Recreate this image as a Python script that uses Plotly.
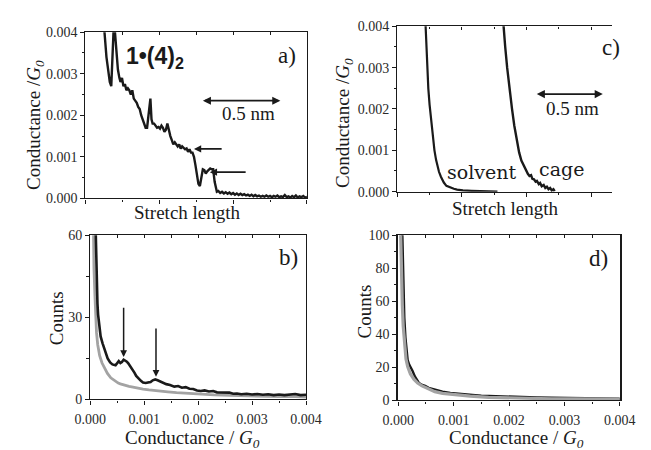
import plotly.graph_objects as go

# ---------------- data ----------------
# (a) single stretching trace of 1·(4)2, stretch length in arbitrary units
trace_a_x = [0.49, 0.53, 0.57, 0.60, 0.63, 0.66, 0.70, 0.72, 0.74, 0.77, 0.80, 0.83, 0.86, 0.88,
             0.92, 0.95, 0.99, 1.03, 1.07, 1.11, 1.15, 1.19, 1.23, 1.27, 1.31, 1.35, 1.39, 1.43,
             1.47, 1.51, 1.55, 1.59, 1.63, 1.67, 1.70, 1.73, 1.76, 1.79, 1.82, 1.86, 1.90, 1.94,
             1.98, 2.02, 2.06, 2.10, 2.14, 2.18, 2.22, 2.26, 2.30, 2.34, 2.38, 2.42, 2.46, 2.50,
             2.54, 2.58, 2.62, 2.66, 2.70, 2.74, 2.78, 2.82, 2.86, 2.90, 2.94, 2.98, 3.02, 3.06,
             3.10, 3.14, 3.18, 3.22, 3.26, 3.30, 3.34, 3.38, 3.42, 3.46, 3.50, 3.53, 3.56, 3.60,
             3.65, 3.70, 3.75, 3.80, 3.85, 3.90, 3.95, 4.00, 4.05, 4.10, 4.15, 4.20, 4.25, 4.30,
             4.35, 4.40, 4.45, 4.50, 4.55, 4.60, 4.65, 4.70, 4.75, 4.80, 4.85, 4.90, 4.95, 5.00,
             5.05, 5.10, 5.15, 5.20, 5.25, 5.30, 5.35, 5.40, 5.45, 5.50, 5.55, 5.60, 5.65, 5.70,
             5.75, 5.80, 5.85, 5.90, 5.95, 6.00]
trace_a_g = [0.0043, 0.0038, 0.0034, 0.0032, 0.0030, 0.0028, 0.0027, 0.0031, 0.0037, 0.0042,
             0.0040, 0.0036, 0.0034, 0.0031, 0.0029, 0.0028, 0.0029, 0.0027, 0.00275, 0.0026,
             0.00265, 0.0026, 0.0025, 0.0026, 0.0024, 0.00235, 0.0023, 0.0022, 0.00215, 0.0020,
             0.0019, 0.0018, 0.0017, 0.0017, 0.0019, 0.0022, 0.0024, 0.0019, 0.0018, 0.0018,
             0.00175, 0.0017, 0.00172, 0.00168, 0.00175, 0.0017, 0.0016, 0.00165, 0.0018, 0.0016,
             0.0015, 0.0014, 0.0013, 0.00135, 0.0013, 0.00125, 0.0013, 0.0012, 0.00125, 0.0012,
             0.00118, 0.0012, 0.00112, 0.00118, 0.0011, 0.0011, 0.0010, 0.0008, 0.0005, 0.00035,
             0.0003, 0.0005, 0.0007, 0.00068, 0.0006, 0.00065, 0.0007, 0.00072, 0.0007, 0.0007,
             0.0004, 0.00022, 0.00016, 0.00018, 0.00013, 0.00016, 0.00012, 0.00015, 0.00011,
             0.00014, 0.00010, 0.00013, 0.00009, 0.00012, 0.00008, 0.00011, 0.00008, 0.00010,
             0.00007, 0.00009, 0.00006, 0.00009, 0.00005, 0.00008, 0.00005, 0.00007, 0.00004,
             0.00006, 0.00004, 0.00007, 0.00004, 0.00006, 0.00003, 0.00006, 0.00004, 0.00007,
             0.00003, 0.00005, 0.00003, 0.00008, 0.00003, 0.00005, 0.00002, 0.00006, 0.00003,
             0.00007, 0.00002, 0.00005, 0.00003, 0.00006, 0.00002, 0.00004]

# (c) solvent and cage traces
solvent_x = [0.86, 0.873, 0.90, 0.93, 0.96, 1.00, 1.05, 1.10, 1.15, 1.20, 1.25, 1.29, 1.35,
             1.44, 1.52, 1.64, 1.75, 1.85, 2.03, 2.30, 2.60, 3.10]
solvent_g = [0.0043, 0.0040, 0.0035, 0.0029, 0.0025, 0.0021, 0.0017, 0.0013, 0.0010, 0.00077,
             0.0006, 0.00048, 0.00036, 0.00022, 0.00014, 0.00010, 0.00007, 0.00005, 0.00003,
             0.00002, 0.00001, 0.0]
cage_x = [3.26, 3.285, 3.34, 3.40, 3.47, 3.55, 3.62, 3.70, 3.77, 3.84, 3.90, 3.95, 4.00, 4.04,
          4.09, 4.14, 4.18, 4.23, 4.28, 4.32, 4.38, 4.42, 4.47, 4.53, 4.58, 4.63, 4.68, 4.73,
          4.78, 4.83, 4.87]
cage_g = [0.0043, 0.0040, 0.0035, 0.0030, 0.0025, 0.0020, 0.0016, 0.0012, 0.00095, 0.00075,
          0.00065, 0.00055, 0.0005, 0.00043, 0.00038, 0.00040, 0.00031, 0.00030, 0.00024,
          0.00026, 0.00018, 0.00021, 0.00013, 0.00016, 0.00009, 0.00012, 0.00006, 0.00009,
          0.00003, 0.00006, 0.00001]

# (b) conductance histograms: with molecule (black) and reference (grey)
hist_b_black_g = [0.00008, 0.0001, 0.000118, 0.000135, 0.000147, 0.00017, 0.000194, 0.00023,
                  0.000265, 0.0003, 0.000324, 0.00037, 0.000412, 0.00047, 0.0005, 0.00053,
                  0.00056, 0.000588, 0.00062, 0.000647, 0.00068, 0.000706, 0.00074, 0.000782,
                  0.00082, 0.000853, 0.0009, 0.00094, 0.00098, 0.00103, 0.00107, 0.00112,
                  0.00116, 0.001206, 0.00125, 0.00129, 0.00134, 0.00141, 0.00148, 0.00156,
                  0.00163, 0.0017, 0.00177, 0.00184, 0.00191, 0.00198, 0.00205, 0.00212,
                  0.0022, 0.00228, 0.00235, 0.00242, 0.0025, 0.00258, 0.00265, 0.00272,
                  0.0028, 0.0029, 0.0030, 0.0031, 0.0032, 0.0033, 0.0034, 0.0035, 0.0036,
                  0.0037, 0.0038, 0.0039, 0.0040]
hist_b_black_n = [80, 60, 44, 35, 31, 26, 23, 20.5, 18.4, 16, 15, 13.5, 12.8, 12.5, 13.2, 14,
                  13.3, 13.7, 14.5, 14.2, 13.8, 13.2, 12.3, 11.2, 9.8, 8.6, 7.5, 6.8, 6.2, 6.0,
                  6.2, 6.4, 7.0, 7.3, 7.0, 6.6, 6.0, 5.6, 5.3, 4.7, 4.9, 4.3, 4.5, 3.9, 3.8, 3.3,
                  3.1, 3.3, 2.9, 3.1, 2.6, 2.6, 2.4, 2.5, 2.1, 2.2, 1.9, 2.1, 1.8, 2.0, 1.7, 1.9,
                  1.6, 1.8, 1.6, 1.7, 2.0, 1.6, 1.7]
hist_b_grey_g = [0.00005, 0.000059, 0.00007, 0.000088, 0.0001, 0.000118, 0.00014, 0.000176,
                 0.00022, 0.000265, 0.00032, 0.000382, 0.00045, 0.00052, 0.000559, 0.00065,
                 0.00072, 0.000794, 0.00088, 0.00098, 0.00109, 0.0012, 0.00132, 0.00144,
                 0.0016, 0.0018, 0.00203, 0.0023, 0.0026, 0.0029, 0.0032, 0.0035, 0.0038, 0.0040]
hist_b_grey_n = [80, 60, 48, 38, 31, 24.3, 20, 16, 13.3, 11.4, 9.5, 7.9, 6.8, 6.0, 5.7, 5.1,
                 4.8, 4.5, 4.1, 3.8, 3.5, 3.2, 3.0, 2.8, 2.5, 2.2, 2.0, 1.7, 1.5, 1.3, 1.2, 1.0,
                 1.0, 0.9]

# (d) conductance histograms for the cage
hist_d_black_g = [0.00006, 0.000074, 0.000085, 0.000097, 0.00011, 0.00013, 0.00015, 0.00017,
                  0.0002, 0.00023, 0.000257, 0.0003, 0.00034, 0.00037, 0.00042, 0.000486,
                  0.00055, 0.00066, 0.0008, 0.00094, 0.0011, 0.00125, 0.00134, 0.0015, 0.0017,
                  0.0019, 0.0022, 0.0025, 0.00277, 0.0031, 0.0034, 0.0037, 0.0040]
hist_d_black_n = [120, 100, 80, 67, 50, 38, 29, 24.4, 21.5, 20, 18, 14.5, 12, 10.7, 9.5, 8.8,
                  7.6, 6.4, 5.3, 4.5, 3.9, 3.6, 3.3, 2.9, 2.6, 2.3, 2.0, 1.8, 1.6, 1.4, 1.2, 1.1,
                  1.0]
hist_d_grey_g = [0.00003, 0.00004, 0.00006, 0.000074, 0.00009, 0.000114, 0.00014, 0.00017,
                 0.00022, 0.000286, 0.00035, 0.00043, 0.00055, 0.00066, 0.0008, 0.00106,
                 0.0013, 0.00163, 0.002, 0.0024, 0.00277, 0.0032, 0.0036, 0.004]
hist_d_grey_n = [120, 100, 70, 57.5, 45, 32, 25, 20.5, 16, 12.7, 10.5, 8.8, 6.8, 5.3, 4.3, 3.3,
                 2.6, 1.9, 1.5, 1.2, 1.0, 0.9, 0.8, 0.8]

# arrows marking the steps / peaks
step_arrows_a = [(2.94, 0.00119, 3.73), (3.37, 0.00063, 4.38)]   # (head x, y, tail x)
peak_arrows_b = [(0.00062, 15.5, 34.0), (0.00122, 8.3, 26.5)]    # (x, head y, tail y)

# ---------------- layout helpers ----------------
W, H = 651, 450
SERIF = "Liberation Serif"
INK = "#1a1a1a"
GREY = "#a3a3a3"


def xdom(left, right):
    return [left / W, right / W]


def ydom(top, bottom):
    return [1 - bottom / H, 1 - top / H]


def px_x(p):
    return p / W


def px_y(p):
    return 1 - p / H


fig = go.Figure()

# panel (a)
fig.add_trace(go.Scatter(x=trace_a_x, y=trace_a_g, mode="lines",
                         line=dict(color=INK, width=2.4), xaxis="x", yaxis="y"))
# panel (c)
fig.add_trace(go.Scatter(x=solvent_x, y=solvent_g, mode="lines",
                         line=dict(color=INK, width=2.2), xaxis="x3", yaxis="y3"))
fig.add_trace(go.Scatter(x=cage_x, y=cage_g, mode="lines",
                         line=dict(color=INK, width=2.4), xaxis="x3", yaxis="y3"))
# panel (b)
fig.add_trace(go.Scatter(x=hist_b_grey_g, y=hist_b_grey_n, mode="lines",
                         line=dict(color=GREY, width=2.8), xaxis="x2", yaxis="y2"))
fig.add_trace(go.Scatter(x=hist_b_black_g, y=hist_b_black_n, mode="lines",
                         line=dict(color=INK, width=2.6), xaxis="x2", yaxis="y2"))
# panel (d)
fig.add_trace(go.Scatter(x=hist_d_black_g, y=hist_d_black_n, mode="lines",
                         line=dict(color=INK, width=2.4), xaxis="x4", yaxis="y4"))
fig.add_trace(go.Scatter(x=hist_d_grey_g, y=hist_d_grey_n, mode="lines",
                         line=dict(color=GREY, width=3.2), xaxis="x4", yaxis="y4"))

# empty traces so that the top tick axes get drawn
for xa, ya in [("x5", "y"), ("x6", "y2"), ("x7", "y3"), ("x8", "y4")]:
    fig.add_trace(go.Scatter(x=[], y=[], xaxis=xa, yaxis=ya, hoverinfo="skip"))

tickfont = dict(family=SERIF, size=14, color="#2a2a2a")


def y_axis(dom, rng, dtick, minor_dtick, fmt, anchor, mirror=True, lw=1.4):
    return dict(domain=dom, range=rng, anchor=anchor, showline=True, linecolor=INK,
                linewidth=lw, mirror=mirror, ticks="outside", ticklen=4, tickwidth=1.2,
                tickcolor=INK, dtick=dtick, tick0=0, tickformat=fmt, tickfont=tickfont,
                showgrid=False, zeroline=False,
                minor=dict(ticks="outside", ticklen=2.5, dtick=minor_dtick, tick0=0,
                           tickcolor=INK, tickwidth=1, showgrid=False))


def x_axis(dom, rng, dtick, minor_dtick, fmt, anchor, labels):
    return dict(domain=dom, range=rng, anchor=anchor, showline=True, linecolor=INK,
                linewidth=1.4, mirror=False, ticks="outside", ticklen=4, tickwidth=1.2,
                tickcolor=INK, dtick=dtick, tick0=0, tickformat=fmt, tickfont=tickfont,
                showticklabels=labels, ticklabelstandoff=3, showgrid=False, zeroline=False,
                minor=dict(ticks="outside", ticklen=2.5, dtick=minor_dtick, tick0=0,
                           tickcolor=INK, tickwidth=1, showgrid=False))


def top_axis(over, anchor, rng, dtick, minor_dtick):
    return dict(overlaying=over, anchor=anchor, side="top", range=rng, showline=True,
                linecolor=INK, linewidth=1.4, ticks="inside", ticklen=3, tickwidth=1,
                tickcolor=INK, dtick=dtick, tick0=0, showticklabels=False,
                showgrid=False, zeroline=False,
                minor=dict(ticks="inside", ticklen=2.5, dtick=minor_dtick, tick0=0,
                           tickcolor=INK, tickwidth=1, showgrid=False))


rng_a = [0, 6]
rng_c = [0, 6.65]
rng_h = [0, 0.004]

fig.update_layout(
    width=W, height=H, margin=dict(l=0, r=0, t=0, b=0),
    paper_bgcolor="white", plot_bgcolor="white", showlegend=False,
    xaxis=x_axis(xdom(73, 306), rng_a, 2, 1, None, "y", False),
    yaxis=y_axis(ydom(26, 198), [0, 0.004], 0.001, 0.0005, ".3f", "x"),
    xaxis2=x_axis(xdom(78, 305), rng_h, 0.001, 0.0005, ".3f", "y2", True),
    yaxis2=y_axis(ydom(236, 406), [0, 60], 30, 15, "d", "x2"),
    xaxis3=x_axis(xdom(401, 627), rng_c, 2, 1, None, "y3", False),
    yaxis3=y_axis(ydom(20, 191), [0, 0.004], 0.001, 0.0005, ".3f", "x3", mirror=False),
    xaxis4=x_axis(xdom(402, 635), rng_h, 0.001, 0.0005, ".3f", "y4", True),
    yaxis4=y_axis(ydom(236, 407), [0, 100], 20, 10, "d", "x4", lw=1.8),
    xaxis5=top_axis("x", "y", rng_a, 2, 1),
    xaxis6=top_axis("x2", "y2", rng_h, 0.001, 0.0005),
    xaxis7=top_axis("x3", "y3", rng_c, 2, 1),
    xaxis8=top_axis("x4", "y4", rng_h, 0.001, 0.0005),
)

ann = []
title_font = dict(family=SERIF, size=19, color=INK)
G0 = "<i>G</i><sub><i>0</i></sub>"

# axis titles
ann += [
    dict(text="Conductance /" + G0, x=px_x(20), y=px_y(122), textangle=-90),
    dict(text="Conductance /" + G0, x=px_x(345), y=px_y(120), textangle=-90),
    dict(text="Counts", x=px_x(42), y=px_y(322), textangle=-90),
    dict(text="Counts", x=px_x(367), y=px_y(315), textangle=-90),
    dict(text="Stretch length", x=px_x(180), y=px_y(213)),
    dict(text="Stretch length", x=px_x(515), y=px_y(208)),
    dict(text="Conductance / " + G0, x=px_x(186), y=px_y(447)),
    dict(text="Conductance / " + G0, x=px_x(526), y=px_y(447)),
]
for a in ann:
    a.update(xref="paper", yref="paper", showarrow=False, font=title_font,
             xanchor="center", yanchor="middle")

panel_font = dict(family=SERIF, size=23, color=INK)
ann += [
    dict(text="a)", x=5.46, y=0.00344, xref="x", yref="y", showarrow=False, font=panel_font),
    dict(text="b)", x=0.00368, y=52, xref="x2", yref="y2", showarrow=False, font=panel_font),
    dict(text="c)", x=6.6, y=0.00348, xref="x3", yref="y3", showarrow=False, font=panel_font),
    dict(text="d)", x=0.00362, y=86, xref="x4", yref="y4", showarrow=False, font=panel_font),
    dict(text="<b>1•(4)<sub>2</sub></b>", x=1.88, y=0.0034, xref="x", yref="y",
         showarrow=False, font=dict(family="Liberation Sans", size=23, color=INK)),
    dict(text="0.5 nm", x=4.43, y=0.00205, xref="x", yref="y", showarrow=False,
         font=dict(family=SERIF, size=19, color=INK)),
    dict(text="0.5 nm", x=5.41, y=0.00202, xref="x3", yref="y3", showarrow=False,
         font=dict(family=SERIF, size=19, color=INK)),
    dict(text="solvent", x=2.62, y=0.00047, xref="x3", yref="y3", showarrow=False,
         font=dict(family="DejaVu Serif", size=19, color=INK)),
    dict(text="cage", x=5.09, y=0.00054, xref="x3", yref="y3", showarrow=False,
         font=dict(family="DejaVu Serif", size=19, color=INK)),
]

# double-headed scale bars
ann += [
    dict(x=5.28, y=0.00235, ax=3.14, ay=0.00235, xref="x", yref="y", axref="x", ayref="y",
         text="", showarrow=True, arrowhead=2, startarrowhead=2, arrowside="end+start",
         arrowsize=0.9, startarrowsize=0.9, arrowwidth=1.8, arrowcolor=INK),
    dict(x=6.36, y=0.00236, ax=4.27, ay=0.00236, xref="x3", yref="y3", axref="x3", ayref="y3",
         text="", showarrow=True, arrowhead=2, startarrowhead=2, arrowside="end+start",
         arrowsize=0.9, startarrowsize=0.9, arrowwidth=1.8, arrowcolor=INK),
]
# step arrows in (a)
for hx, hy, tx in step_arrows_a:
    ann.append(dict(x=hx, y=hy, ax=tx, ay=hy, xref="x", yref="y", axref="x", ayref="y",
                    text="", showarrow=True, arrowhead=2, arrowsize=0.8, arrowwidth=1.8,
                    arrowcolor=INK))
# peak arrows in (b)
for px_, hy, ty in peak_arrows_b:
    ann.append(dict(x=px_, y=hy, ax=px_, ay=ty, xref="x2", yref="y2", axref="x2", ayref="y2",
                    text="", showarrow=True, arrowhead=2, arrowsize=0.9, arrowwidth=1.5,
                    arrowcolor=INK))

fig.update_layout(annotations=ann)
fig.write_html("out.html")
